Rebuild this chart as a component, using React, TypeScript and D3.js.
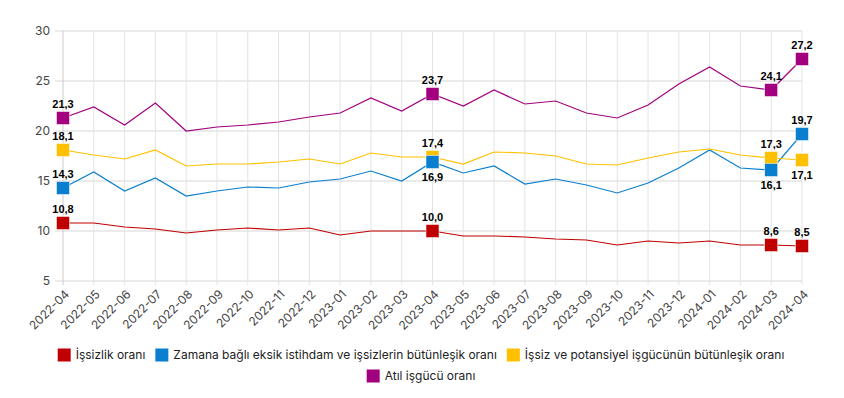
import React, { useEffect, useRef } from 'react';
import * as d3 from 'd3';

const months = [
  '2022-04', '2022-05', '2022-06', '2022-07', '2022-08', '2022-09', '2022-10', '2022-11', '2022-12',
  '2023-01', '2023-02', '2023-03', '2023-04', '2023-05', '2023-06', '2023-07', '2023-08', '2023-09',
  '2023-10', '2023-11', '2023-12', '2024-01', '2024-02', '2024-03', '2024-04',
];

const issizlik = [10.8, 10.8, 10.4, 10.2, 9.8, 10.1, 10.3, 10.1, 10.3, 9.6, 10.0, 10.0, 10.0, 9.5, 9.5, 9.4, 9.2, 9.1, 8.6, 9.0, 8.8, 9.0, 8.6, 8.6, 8.5];
const zamana = [14.3, 15.9, 14.0, 15.3, 13.5, 14.0, 14.4, 14.3, 14.9, 15.2, 16.0, 15.0, 16.9, 15.8, 16.5, 14.7, 15.2, 14.6, 13.8, 14.8, 16.3, 18.1, 16.3, 16.1, 19.7];
const potansiyel = [18.1, 17.6, 17.2, 18.1, 16.5, 16.7, 16.7, 16.9, 17.2, 16.7, 17.8, 17.4, 17.4, 16.7, 17.9, 17.8, 17.5, 16.7, 16.6, 17.3, 17.9, 18.2, 17.6, 17.3, 17.1];
const atil = [21.3, 22.4, 20.6, 22.8, 20.0, 20.4, 20.6, 20.9, 21.4, 21.8, 23.3, 22.0, 23.7, 22.5, 24.1, 22.7, 23.0, 21.8, 21.3, 22.6, 24.7, 26.4, 24.5, 24.1, 27.2];

const yTicks = [5, 10, 15, 20, 25, 30];
const labelled = ['2022-04', '2023-04', '2024-03', '2024-04'];

const series = [
  { name: 'İşsizlik oranı', values: issizlik, color: '#c00000', below: [] as string[] },
  { name: 'Zamana bağlı eksik istihdam ve işsizlerin bütünleşik oranı', values: zamana, color: '#0a7fcf', below: ['2023-04', '2024-03'] },
  { name: 'İşsiz ve potansiyel işgücünün bütünleşik oranı', values: potansiyel, color: '#ffc000', below: ['2024-04'] },
  { name: 'Atıl işgücü oranı', values: atil, color: '#a2007e', below: [] as string[] },
];
// marker draw order: blue sits on top of yellow in the original
const markerOrder = [0, 2, 1, 3];

const W = 844;
const H = 398;
const font = 'Inter, "Noto Sans", sans-serif';

const App = () => {
  const ref = useRef<SVGSVGElement>(null);

  useEffect(() => {
    const svg = d3.select(ref.current);
    svg.selectAll('*').remove();

    const x = d3.scalePoint().domain(months).range([63, 802]);
    const y = d3.scaleLinear().domain([5, 30]).range([281, 31]);

    // horizontal grid
    svg.append('g').selectAll('line').data(yTicks).enter().append('line')
      .attr('x1', 55).attr('x2', 802)
      .attr('y1', d => y(d)).attr('y2', d => y(d))
      .attr('stroke', '#ebebeb').attr('stroke-width', 2);

    // vertical grid
    svg.append('g').selectAll('line').data(months).enter().append('line')
      .attr('x1', d => x(d)!).attr('x2', d => x(d)!)
      .attr('y1', y(30)).attr('y2', 285)
      .attr('stroke', (d, i) => (i === 0 ? '#cccccc' : '#e3e3e3'))
      .attr('stroke-width', 1);

    // y labels
    svg.append('g').selectAll('text').data(yTicks).enter().append('text')
      .attr('x', 50).attr('y', d => y(d)).attr('dy', '0.35em')
      .attr('text-anchor', 'end')
      .attr('font-family', font).attr('font-size', 12).attr('fill', '#444')
      .text(d => d);

    // x labels
    svg.append('g').selectAll('text').data(months).enter().append('text')
      .attr('transform', d => `translate(${x(d)! + 4},${292}) rotate(-45)`)
      .attr('text-anchor', 'end').attr('dy', '0.35em')
      .attr('font-family', font).attr('font-size', 12).attr('fill', '#444')
      .text(d => d);

    const line = d3.line<number>()
      .x((d, i) => x(months[i])!)
      .y(d => y(d));

    series.forEach(s => {
      svg.append('path')
        .attr('d', line(s.values))
        .attr('fill', 'none')
        .attr('stroke', s.color)
        .attr('stroke-width', 1.2);
    });

    markerOrder.forEach(k => {
      const s = series[k];
      const pts = months.map((m, i) => ({ m, v: s.values[i] })).filter(p => labelled.includes(p.m));
      svg.append('g').selectAll('rect').data(pts).enter().append('rect')
        .attr('x', p => x(p.m)! - 6.5).attr('y', p => y(p.v) - 6.5)
        .attr('width', 13).attr('height', 13)
        .attr('fill', s.color).attr('stroke', '#fff').attr('stroke-width', 0.5);
    });

    series.forEach(s => {
      const pts = months.map((m, i) => ({ m, v: s.values[i] })).filter(p => labelled.includes(p.m));
      svg.append('g').selectAll('text').data(pts).enter().append('text')
        .attr('x', p => x(p.m)!)
        .attr('y', p => (s.below.includes(p.m) ? y(p.v) + 19 : y(p.v) - 10.5))
        .attr('text-anchor', 'middle')
        .attr('font-family', '"Liberation Sans", Arial, sans-serif')
        .attr('font-weight', 'bold').attr('font-size', 11).attr('fill', '#000')
        .text(p => p.v.toFixed(1).replace('.', ','));
    });

    // legend
    const rows = [series.slice(0, 3), series.slice(3)];
    const rowY = [355, 376];
    rows.forEach((row, ri) => {
      const g = svg.append('g');
      let cx = 0;
      row.forEach(s => {
        g.append('rect').attr('x', cx).attr('y', rowY[ri] - 6.5)
          .attr('width', 13).attr('height', 13).attr('fill', s.color);
        const t = g.append('text').attr('x', cx + 18).attr('y', rowY[ri]).attr('dy', '0.35em')
          .attr('font-family', font).attr('font-size', 12).attr('fill', '#222')
          .text(s.name);
        const w = (t.node() as SVGTextElement).getComputedTextLength();
        cx += 18 + w + 10;
      });
      const total = cx - 10;
      g.attr('transform', `translate(${421 - total / 2},0)`);
    });
  }, []);

  return (
    <div style={{ position: 'absolute', left: 0, top: 0 }}>
      <svg ref={ref} width={W} height={H} style={{ display: 'block', background: '#fff' }} />
    </div>
  );
};

export default App;
